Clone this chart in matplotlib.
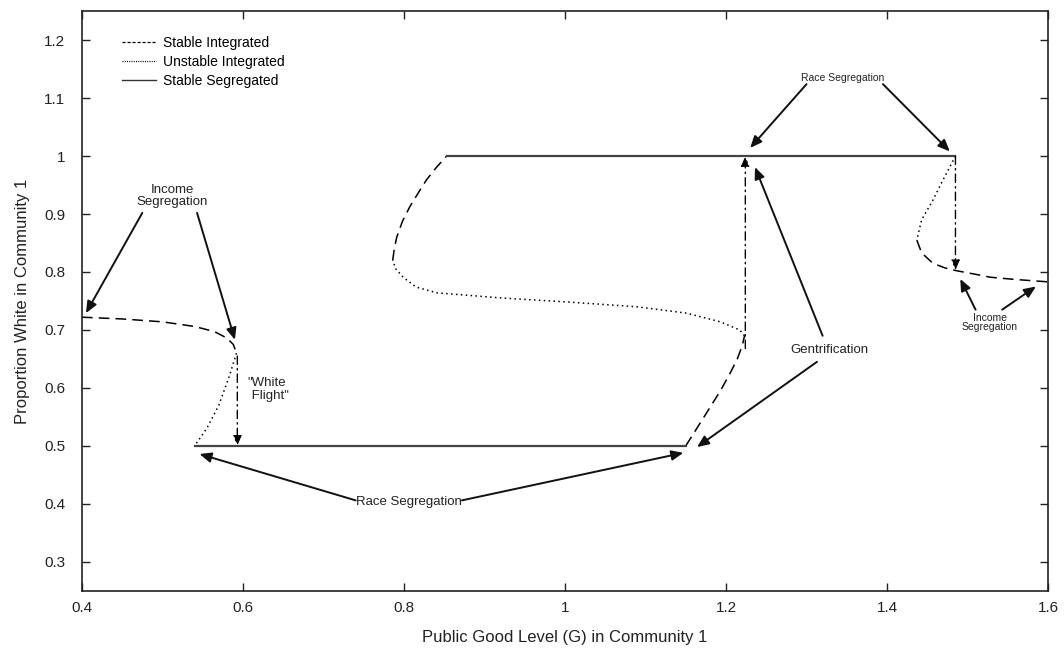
import matplotlib.pyplot as plt
from matplotlib.lines import Line2D

plt.rcParams['font.family'] = ['Liberation Sans', 'DejaVu Sans']

# stable integrated branches (dashed)
left_si_x = [0.40, 0.45, 0.50, 0.54, 0.565, 0.58, 0.588, 0.592]
left_si_y = [0.722, 0.719, 0.714, 0.706, 0.697, 0.686, 0.675, 0.660]
mid_low_si_x = [1.150, 1.175, 1.193, 1.205, 1.214, 1.220, 1.223]
mid_low_si_y = [0.500, 0.555, 0.595, 0.625, 0.650, 0.672, 0.690]
mid_up_si_x = [0.786, 0.788, 0.791, 0.798, 0.807, 0.818, 0.828, 0.840, 0.853]
mid_up_si_y = [0.820, 0.840, 0.860, 0.887, 0.912, 0.937, 0.959, 0.980, 1.000]
right_si_x = [1.437, 1.443, 1.457, 1.472, 1.487, 1.51, 1.528, 1.56, 1.60]
right_si_y = [0.855, 0.833, 0.815, 0.807, 0.802, 0.796, 0.791, 0.787, 0.783]

# unstable integrated branches (dotted)
left_ui_x = [0.592, 0.583, 0.570, 0.555, 0.540]
left_ui_y = [0.660, 0.620, 0.570, 0.530, 0.500]
mid_ui_x = [1.223, 1.217, 1.193, 1.151, 1.089, 1.006, 0.923, 0.841, 0.815, 0.799, 0.790, 0.786]
mid_ui_y = [0.690, 0.700, 0.714, 0.729, 0.740, 0.748, 0.755, 0.764, 0.774, 0.791, 0.805, 0.820]
right_ui_x = [1.485, 1.470, 1.457, 1.443, 1.437]
right_ui_y = [1.000, 0.960, 0.924, 0.890, 0.855]

# stable segregated (solid)
seg_low_x = [0.540, 1.150]
seg_low_y = [0.500, 0.500]
seg_high_x = [0.853, 1.485]
seg_high_y = [1.000, 1.000]

# jumps (dash-dot arrows): (x, y_from, y_to)
jumps = [(0.593, 0.655, 0.500), (1.224, 0.668, 1.000), (1.485, 1.000, 0.803)]

legend_labels = ['Stable Integrated', 'Unstable Integrated', 'Stable Segregated']

fig = plt.figure(figsize=(10.64, 6.55), dpi=100)
ax = fig.add_axes([0.077, 0.098, 0.908, 0.885])

dash = (0, (7, 4))
dot = (0, (1, 2.2))
lw = 1.1
ax.plot(left_si_x, left_si_y, color='black', lw=lw, linestyle=dash)
ax.plot(mid_low_si_x, mid_low_si_y, color='black', lw=lw, linestyle=dash)
ax.plot(mid_up_si_x, mid_up_si_y, color='black', lw=lw, linestyle=dash)
ax.plot(right_si_x, right_si_y, color='black', lw=lw, linestyle=dash)

ax.plot(left_ui_x, left_ui_y, color='black', lw=lw, linestyle=dot)
ax.plot(mid_ui_x, mid_ui_y, color='black', lw=lw, linestyle=dot)
ax.plot(right_ui_x, right_ui_y, color='black', lw=lw, linestyle=dot)

ax.plot(seg_low_x, seg_low_y, color='#444444', lw=1.6)
ax.plot(seg_high_x, seg_high_y, color='#444444', lw=1.6)

for jx, y0, y1 in jumps:
    ax.annotate('', xy=(jx, y1), xytext=(jx, y0),
                arrowprops=dict(arrowstyle='-|>,head_length=0.6,head_width=0.25', color='black',
                                lw=1.0, linestyle=(0, (6, 3, 1, 3)), shrinkA=0, shrinkB=0))

arrow = dict(arrowstyle='-|>,head_length=0.7,head_width=0.3', color='#111111', lw=1.4,
             shrinkA=0, shrinkB=0)
txt = dict(fontsize=9.5, ha='center', va='center', color='#222222')

# Income segregation (left)
ax.text(0.512, 0.931, 'Income\nSegregation', linespacing=0.95, **txt)
ax.annotate('', xy=(0.405, 0.729), xytext=(0.475, 0.902), arrowprops=arrow)
ax.annotate('', xy=(0.590, 0.683), xytext=(0.543, 0.902), arrowprops=arrow)

# white flight
ax.text(0.606, 0.597, '"White\n Flight"', fontsize=9.5, ha='left', va='center', color='#222222',
        linespacing=1.15)

# Race segregation (bottom)
ax.text(0.806, 0.403, 'Race Segregation', **txt)
ax.annotate('', xy=(0.546, 0.486), xytext=(0.740, 0.406), arrowprops=arrow)
ax.annotate('', xy=(1.147, 0.488), xytext=(0.872, 0.406), arrowprops=arrow)

# Race segregation (top)
ax.text(1.345, 1.134, 'Race Segregation', fontsize=7.5, ha='center', va='center', color='#222222')
ax.annotate('', xy=(1.230, 1.014), xytext=(1.300, 1.124), arrowprops=arrow)
ax.annotate('', xy=(1.478, 1.008), xytext=(1.395, 1.124), arrowprops=arrow)

# Gentrification
ax.text(1.328, 0.666, 'Gentrification', **txt)
ax.annotate('', xy=(1.236, 0.981), xytext=(1.320, 0.690), arrowprops=arrow)
ax.annotate('', xy=(1.164, 0.498), xytext=(1.313, 0.645), arrowprops=arrow)

# Income segregation (right)
ax.text(1.528, 0.713, 'Income\nSegregation', fontsize=7.5, ha='center', va='center',
        color='#222222', linespacing=0.95)
ax.annotate('', xy=(1.491, 0.788), xytext=(1.510, 0.735), arrowprops=arrow)
ax.annotate('', xy=(1.585, 0.775), xytext=(1.543, 0.735), arrowprops=arrow)

ax.set_xlim(0.4, 1.6)
ax.set_ylim(0.25, 1.25)
xticks = [0.4, 0.6, 0.8, 1.0, 1.2, 1.4, 1.6]
yticks = [0.3, 0.4, 0.5, 0.6, 0.7, 0.8, 0.9, 1.0, 1.1, 1.2]
ax.set_xticks(xticks)
ax.set_xticklabels(['0.4', '0.6', '0.8', '1', '1.2', '1.4', '1.6'])
ax.set_yticks(yticks)
ax.set_yticklabels(['0.3', '0.4', '0.5', '0.6', '0.7', '0.8', '0.9', '1', '1.1', '1.2'])
ax.tick_params(direction='in', top=True, right=True, length=6, width=1.0,
               labelsize=11, colors='#222222', pad=7)
ax.tick_params(axis='y', pad=12)
for s in ax.spines.values():
    s.set_linewidth(1.2)
    s.set_color('#222222')

ax.set_xlabel('Public Good Level (G) in Community 1', fontsize=12, color='#222222', labelpad=11)
ax.set_ylabel('Proportion White in Community 1', fontsize=12, color='#222222', labelpad=10)

# legend handles use the finer dash patterns seen in the reference key
handles = [Line2D([], [], color='black', lw=0.9, linestyle=(0, (2.5, 1.5))),
           Line2D([], [], color='black', lw=0.9, linestyle=(0, (0.8, 1.0))),
           Line2D([], [], color='#333333', lw=1.0)]
leg = ax.legend(handles, legend_labels, loc='upper left', bbox_to_anchor=(0.041, 0.957),
                frameon=False, fontsize=10, handlelength=2.5, handletextpad=0.45,
                labelspacing=0.35, borderpad=0, borderaxespad=0)

plt.savefig('out.png')
